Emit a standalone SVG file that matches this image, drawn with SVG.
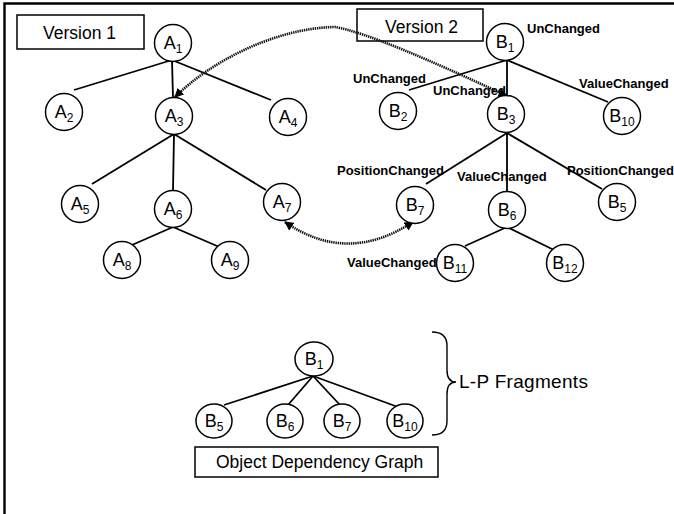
<svg xmlns="http://www.w3.org/2000/svg" width="674" height="514" viewBox="0 0 674 514">
<style>
  .frame{fill:none;stroke:#000;stroke-width:2.4}
  .box{fill:none;stroke:#000;stroke-width:1.5}
  .node{fill:#fff;stroke:#000;stroke-width:1.5}
  .edge{stroke:#000;stroke-width:1.8;fill:none}
  .brace{stroke:#000;stroke-width:1.4;fill:none}
  .dot{stroke:#111;stroke-width:2.6;fill:none;stroke-dasharray:1.4 0.8;marker-start:url(#ah);marker-end:url(#ah)}
  .nl{font-family:"Liberation Sans",Arial,sans-serif;font-size:18px;text-anchor:middle;fill:#000}
  .sub{font-size:12px}
  .lbl{font-family:"Liberation Sans",Arial,sans-serif;font-size:13px;font-weight:bold;fill:#000}
  .title{font-family:"Liberation Sans",Arial,sans-serif;font-size:17.5px;fill:#000}
</style>
<defs>
  <marker id="ah" viewBox="0 0 10 10" refX="9" refY="5" markerWidth="3.6" markerHeight="3.6" orient="auto-start-reverse" markerUnits="strokeWidth">
    <path d="M0,0 L10,5 L0,10 z" fill="#000"/>
  </marker>
</defs>
<rect width="674" height="514" fill="#fff"/>
<path class="frame" d="M4.5,514 L4.5,3.5 L674,3.5"/>

<g id="version1-label"><rect class="box" x="17" y="15" width="127" height="34"/><text class="title" x="43" y="39">Version 1</text></g>
<g id="version2-label"><rect class="box" x="357" y="9" width="126" height="32"/><text class="title" x="385" y="33">Version 2</text></g>
<g id="odg-label"><rect class="box" x="195" y="447" width="243" height="30"/><text class="title" x="216" y="468">Object Dependency Graph</text></g>
<g id="lp-label"><text class="title" x="459" y="388" style="font-size:19px" letter-spacing="0.3">L-P Fragments</text></g>

<g id="connectors">
  <!-- Version 1 tree -->
  <line class="edge" x1="172" y1="60" x2="74" y2="90"/>
  <line class="edge" x1="172" y1="60" x2="173" y2="98"/>
  <line class="edge" x1="172" y1="60" x2="271" y2="100"/>
  <line class="edge" x1="174" y1="134" x2="92" y2="184"/>
  <line class="edge" x1="174" y1="134" x2="173" y2="190"/>
  <line class="edge" x1="174" y1="134" x2="266" y2="190"/>
  <line class="edge" x1="173" y1="227" x2="132" y2="245"/>
  <line class="edge" x1="173" y1="227" x2="224" y2="249"/>
  <!-- Version 2 tree -->
  <line class="edge" x1="507" y1="60" x2="409" y2="90"/>
  <line class="edge" x1="507" y1="60" x2="507" y2="96"/>
  <line class="edge" x1="507" y1="60" x2="608" y2="102"/>
  <line class="edge" x1="507" y1="133" x2="426" y2="184"/>
  <line class="edge" x1="507" y1="133" x2="507" y2="192"/>
  <line class="edge" x1="507" y1="133" x2="602" y2="189"/>
  <line class="edge" x1="507" y1="227" x2="465" y2="246"/>
  <line class="edge" x1="507" y1="227" x2="554" y2="250"/>
  <!-- Object dependency graph -->
  <line class="edge" x1="313" y1="376" x2="224" y2="405"/>
  <line class="edge" x1="313" y1="376" x2="288" y2="405"/>
  <line class="edge" x1="313" y1="376" x2="340" y2="405"/>
  <line class="edge" x1="313" y1="376" x2="398" y2="407"/>
  <!-- correspondence arcs -->
  <path class="dot" d="M507,96 C430,60 365,32 335,27 C275,28 210,62 175,97"/>
  <path class="dot" d="M285,222 Q347,265 413,222"/>
  <!-- brace -->
  <path class="brace" d="M432,332 Q447,332 447,346 L447,370 Q447,382 456,382 Q447,382 447,394 L447,421 Q447,435 432,435"/>
</g>

<g id="A1"><circle class="node" cx="173" cy="43" r="18.5"/><text class="nl" x="173" y="49">A<tspan class="sub" dy="4">1</tspan></text></g>
<g id="A2"><circle class="node" cx="64" cy="112" r="18.5"/><text class="nl" x="64" y="118">A<tspan class="sub" dy="4">2</tspan></text></g>
<g id="A3"><circle class="node" cx="174" cy="116" r="18.5"/><text class="nl" x="174" y="122">A<tspan class="sub" dy="4">3</tspan></text></g>
<g id="A4"><circle class="node" cx="288" cy="117" r="18.5"/><text class="nl" x="288" y="123">A<tspan class="sub" dy="4">4</tspan></text></g>
<g id="A5"><circle class="node" cx="80" cy="204" r="18.5"/><text class="nl" x="80" y="210">A<tspan class="sub" dy="4">5</tspan></text></g>
<g id="A6"><circle class="node" cx="173" cy="209" r="18.5"/><text class="nl" x="173" y="215">A<tspan class="sub" dy="4">6</tspan></text></g>
<g id="A7"><circle class="node" cx="282" cy="202" r="18.5"/><text class="nl" x="282" y="208">A<tspan class="sub" dy="4">7</tspan></text></g>
<g id="A8"><circle class="node" cx="122" cy="260" r="18.5"/><text class="nl" x="122" y="266">A<tspan class="sub" dy="4">8</tspan></text></g>
<g id="A9"><circle class="node" cx="230" cy="260" r="18.5"/><text class="nl" x="230" y="266">A<tspan class="sub" dy="4">9</tspan></text></g>

<g id="B1"><circle class="node" cx="505" cy="42" r="18.5"/><text class="nl" x="505" y="48">B<tspan class="sub" dy="4">1</tspan></text></g>
<g id="B2"><circle class="node" cx="398" cy="111" r="18.5"/><text class="nl" x="398" y="117">B<tspan class="sub" dy="4">2</tspan></text></g>
<g id="B3"><circle class="node" cx="506" cy="114" r="18.5"/><text class="nl" x="506" y="120">B<tspan class="sub" dy="4">3</tspan></text></g>
<g id="B10"><circle class="node" cx="622" cy="116" r="18.5"/><text class="nl" x="622" y="122">B<tspan class="sub" dy="4">10</tspan></text></g>
<g id="B7"><circle class="node" cx="415" cy="205" r="18.5"/><text class="nl" x="415" y="211">B<tspan class="sub" dy="4">7</tspan></text></g>
<g id="B6"><circle class="node" cx="507" cy="210" r="18.5"/><text class="nl" x="507" y="216">B<tspan class="sub" dy="4">6</tspan></text></g>
<g id="B5"><circle class="node" cx="617" cy="202" r="18.5"/><text class="nl" x="617" y="208">B<tspan class="sub" dy="4">5</tspan></text></g>
<g id="B11"><circle class="node" cx="455" cy="263" r="18.5"/><text class="nl" x="455" y="269">B<tspan class="sub" dy="4">11</tspan></text></g>
<g id="B12"><circle class="node" cx="565" cy="263" r="18.5"/><text class="nl" x="565" y="269">B<tspan class="sub" dy="4">12</tspan></text></g>

<g id="ODG-B1"><ellipse class="node" cx="314" cy="359" rx="19" ry="17"/><text class="nl" x="314" y="365">B<tspan class="sub" dy="4">1</tspan></text></g>
<g id="ODG-B5"><ellipse class="node" cx="214" cy="421" rx="18" ry="17"/><text class="nl" x="214" y="427">B<tspan class="sub" dy="4">5</tspan></text></g>
<g id="ODG-B6"><ellipse class="node" cx="285" cy="421" rx="18" ry="17"/><text class="nl" x="285" y="427">B<tspan class="sub" dy="4">6</tspan></text></g>
<g id="ODG-B7"><ellipse class="node" cx="342" cy="421" rx="18" ry="17"/><text class="nl" x="342" y="427">B<tspan class="sub" dy="4">7</tspan></text></g>
<g id="ODG-B10"><ellipse class="node" cx="405" cy="421" rx="18" ry="17"/><text class="nl" x="405" y="427">B<tspan class="sub" dy="4">10</tspan></text></g>

<g id="labels">
  <text class="lbl" x="527" y="33">UnChanged</text>
  <text class="lbl" x="353" y="83">UnChanged</text>
  <text class="lbl" x="433" y="95">UnChanged</text>
  <text class="lbl" x="579" y="88">ValueChanged</text>
  <text class="lbl" x="337" y="175">PositionChanged</text>
  <text class="lbl" x="457" y="181">ValueChanged</text>
  <text class="lbl" x="567" y="175">PositionChanged</text>
  <text class="lbl" x="347" y="267">ValueChanged</text>
</g>
</svg>
